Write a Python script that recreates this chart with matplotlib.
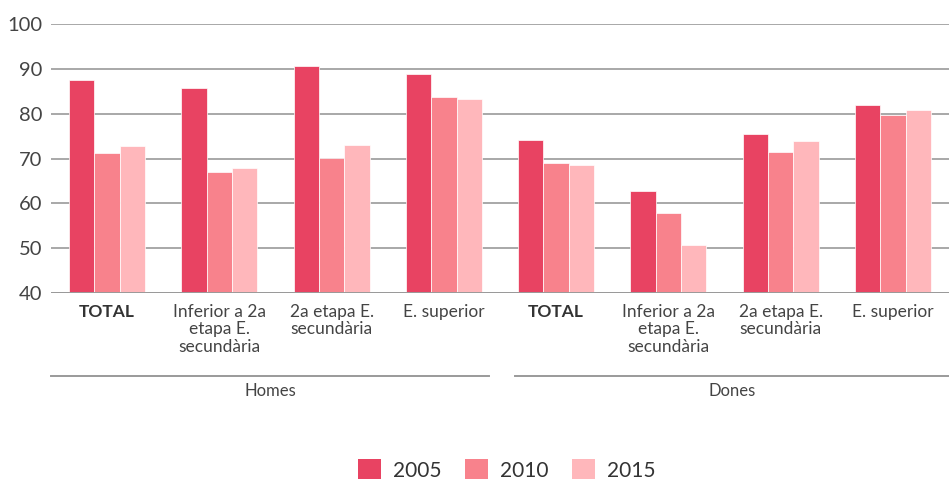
import numpy as np
import matplotlib.pyplot as plt
from matplotlib.patches import Patch

# Dades
categories = ["TOTAL", "Inferior a 2a\netapa E.\nsecundària", "2a etapa E.\nsecundària", "E. superior",
              "TOTAL", "Inferior a 2a\netapa E.\nsecundària", "2a etapa E.\nsecundària", "E. superior"]
groups = ["Homes", "Dones"]
years = ["2005", "2010", "2015"]
v2005 = [87.5, 85.7, 90.6, 88.8, 74.1, 62.8, 75.4, 82.0]
v2010 = [71.2, 67.0, 70.2, 83.8, 69.1, 57.9, 71.5, 79.6]
v2015 = [72.8, 67.8, 73.0, 83.3, 68.6, 50.8, 73.9, 80.9]
colors = ["#E84362", "#F8828C", "#FFB7BB"]

plt.rcParams['font.family'] = ['Lato', 'DejaVu Sans']

fig = plt.figure(figsize=(9.49, 4.83), dpi=100)
ax = fig.add_axes([51/949, 1 - 293/483, 1 - 51/949, (293 - 24)/483])

x = np.arange(len(categories))
w = 0.225
for i, (vals, c) in enumerate(zip([v2005, v2010, v2015], colors)):
    ax.bar(x + (i - 1) * w, np.array(vals) - 40, bottom=40, width=w, color=c,
           edgecolor='white', linewidth=0.5, zorder=3)

ax.set_ylim(40, 100)
ax.set_xlim(-0.5, len(categories) - 0.5)
ax.set_yticks(range(40, 101, 10))
ax.yaxis.grid(True, color='#9a9a9a', linewidth=1.2, zorder=0)
ax.tick_params(axis='y', length=0, labelsize=14.5, labelcolor='#444444', pad=6)
ax.tick_params(axis='x', length=0)
ax.set_xticks([])
for s in ax.spines.values():
    s.set_visible(False)
ax.axhline(40, color='#9a9a9a', linewidth=1.4, zorder=4)

trans = ax.get_xaxis_transform()
for xi, lab in zip(x, categories):
    bold = lab == "TOTAL"
    ax.text(xi, -0.04, lab, transform=trans, ha='center', va='top', fontsize=12.5,
            color='#333333' if bold else '#444444', fontweight='bold' if bold else 'normal',
            linespacing=1.12)

# Línies de grup
line_y = -0.31
ax.plot([-0.5, 3.4], [line_y, line_y], transform=trans, color='#9a9a9a', lw=1.4, clip_on=False)
ax.plot([3.63, 7.5], [line_y, line_y], transform=trans, color='#9a9a9a', lw=1.4, clip_on=False)
ax.text(1.45, -0.335, groups[0], transform=trans, ha='center', va='top', fontsize=12, color='#444444')
ax.text(5.57, -0.335, groups[1], transform=trans, ha='center', va='top', fontsize=12, color='#444444')

handles = [Patch(facecolor=c, label=y) for c, y in zip(colors, years)]
fig.legend(handles=handles, loc='center', bbox_to_anchor=(0.534, 0.027), ncol=3, frameon=False,
           fontsize=15, handlelength=1.1, handleheight=1.1, columnspacing=1.1, handletextpad=0.6,
           labelcolor='#333333')

fig.savefig("out.png", dpi=100)
